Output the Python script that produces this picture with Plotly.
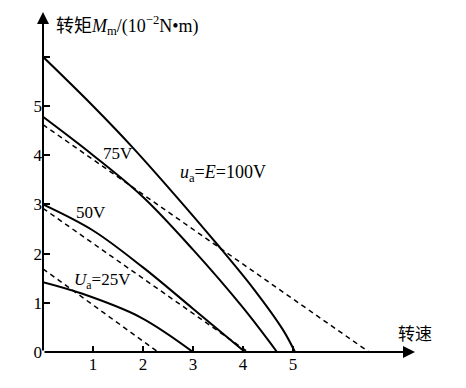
import plotly.graph_objects as go

# Solid characteristic curves (speed in 10^3 r/min, torque in 10^-2 N*m)
x_100 = [0, 1.0, 1.8, 2.64, 3.5, 4.2, 4.8, 5.04]
y_100 = [6.0, 5.0, 4.15, 3.19, 2.17, 1.3, 0.45, 0]
x_75 = [0, 1.0, 2.0, 3.0, 4.0, 4.68]
y_75 = [4.78, 4.0, 3.15, 2.08, 0.9, 0]
x_50 = [0, 1.0, 2.0, 3.0, 4.04]
y_50 = [3.0, 2.47, 1.72, 0.88, 0]
x_25 = [0, 0.74, 1.94, 3.0]
y_25 = [1.42, 1.2, 0.71, 0]

# Dashed (linear) characteristics
xd_75 = [0, 6.52]
yd_75 = [4.62, 0]
xd_50 = [0, 4.1]
yd_50 = [2.92, 0]
xd_25 = [0, 2.3]
yd_25 = [1.69, 0]

x_ticks = [1, 2, 3, 4, 5]
y_ticks = [0, 1, 2, 3, 4, 5, 6]
y_tick_text = ["0", "1", "2", "3", "4", "5", ""]

FONT = "Liberation Serif, Noto Sans CJK SC, serif"

fig = go.Figure()
for xs, ys in [(x_100, y_100), (x_75, y_75), (x_50, y_50), (x_25, y_25)]:
    fig.add_trace(go.Scatter(x=xs, y=ys, mode="lines",
                             line=dict(color="black", width=2, shape="spline", smoothing=1.0),
                             cliponaxis=False, hoverinfo="skip"))
for xs, ys in [(xd_75, yd_75), (xd_50, yd_50), (xd_25, yd_25)]:
    fig.add_trace(go.Scatter(x=xs, y=ys, mode="lines",
                             line=dict(color="black", width=1.5, dash="5px,4px"),
                             cliponaxis=False, hoverinfo="skip"))

fig.update_layout(
    width=458, height=380,
    margin=dict(l=35, r=0, t=0, b=36),
    plot_bgcolor="white", paper_bgcolor="white",
    showlegend=False,
    font=dict(family=FONT, color="black", size=16),
    xaxis=dict(range=[0, 8.46], showgrid=False, zeroline=False, showline=False,
               tickvals=x_ticks, ticks="inside", ticklen=6, tickwidth=1.5,
               tickcolor="black", tickfont=dict(family=FONT, size=17)),
    yaxis=dict(range=[0, 6.992], showgrid=False, zeroline=False, showline=False,
               tickvals=y_ticks, ticktext=y_tick_text, ticks="inside", ticklen=7,
               tickwidth=1.5, tickcolor="black", tickfont=dict(family=FONT, size=17)),
)

# Axis arrows
fig.add_annotation(x=7.44, y=0, ax=0, ay=0, xref="x", yref="y", axref="x", ayref="y",
                   text="", showarrow=True, arrowhead=2, arrowsize=1.2, arrowwidth=2,
                   arrowcolor="black", standoff=0, startstandoff=0)
fig.add_annotation(x=0, y=6.91, ax=0, ay=0, xref="x", yref="y", axref="x", ayref="y",
                   text="", showarrow=True, arrowhead=2, arrowsize=1.2, arrowwidth=2,
                   arrowcolor="black", standoff=0, startstandoff=0)

# Axis titles
fig.add_annotation(x=0.22, y=6.63, xref="x", yref="y", xanchor="left", yanchor="middle",
                   text="转矩<i>M</i><sub>m</sub>/(10<sup>−2</sup>N•m)", showarrow=False,
                   font=dict(size=18))
fig.add_annotation(x=7.44, y=0.35, xref="x", yref="y", xanchor="center", yanchor="middle",
                   text="转速", showarrow=False, font=dict(size=17))
fig.add_annotation(x=6.06, y=-0.41, xref="x", yref="y", xanchor="left", yanchor="middle",
                   text="<i>v</i>/(10<sup>3</sup>r•min<sup>−1</sup>)", showarrow=False,
                   font=dict(size=17))

# Curve labels
labels = [
    (1.5, 4.04, "75V", 17),
    (0.96, 2.84, "50V", 17),
    (1.18, 1.45, "<i>U</i><sub>a</sub>=25V", 17),
    (3.6, 3.62, "<i>u</i><sub>a</sub>=<i>E</i>=100V", 18),
]
for lx, ly, lt, fs in labels:
    fig.add_annotation(x=lx, y=ly, xref="x", yref="y", text=lt, showarrow=False,
                       xanchor="center", yanchor="middle", font=dict(size=fs))

fig.write_html("out.html")
